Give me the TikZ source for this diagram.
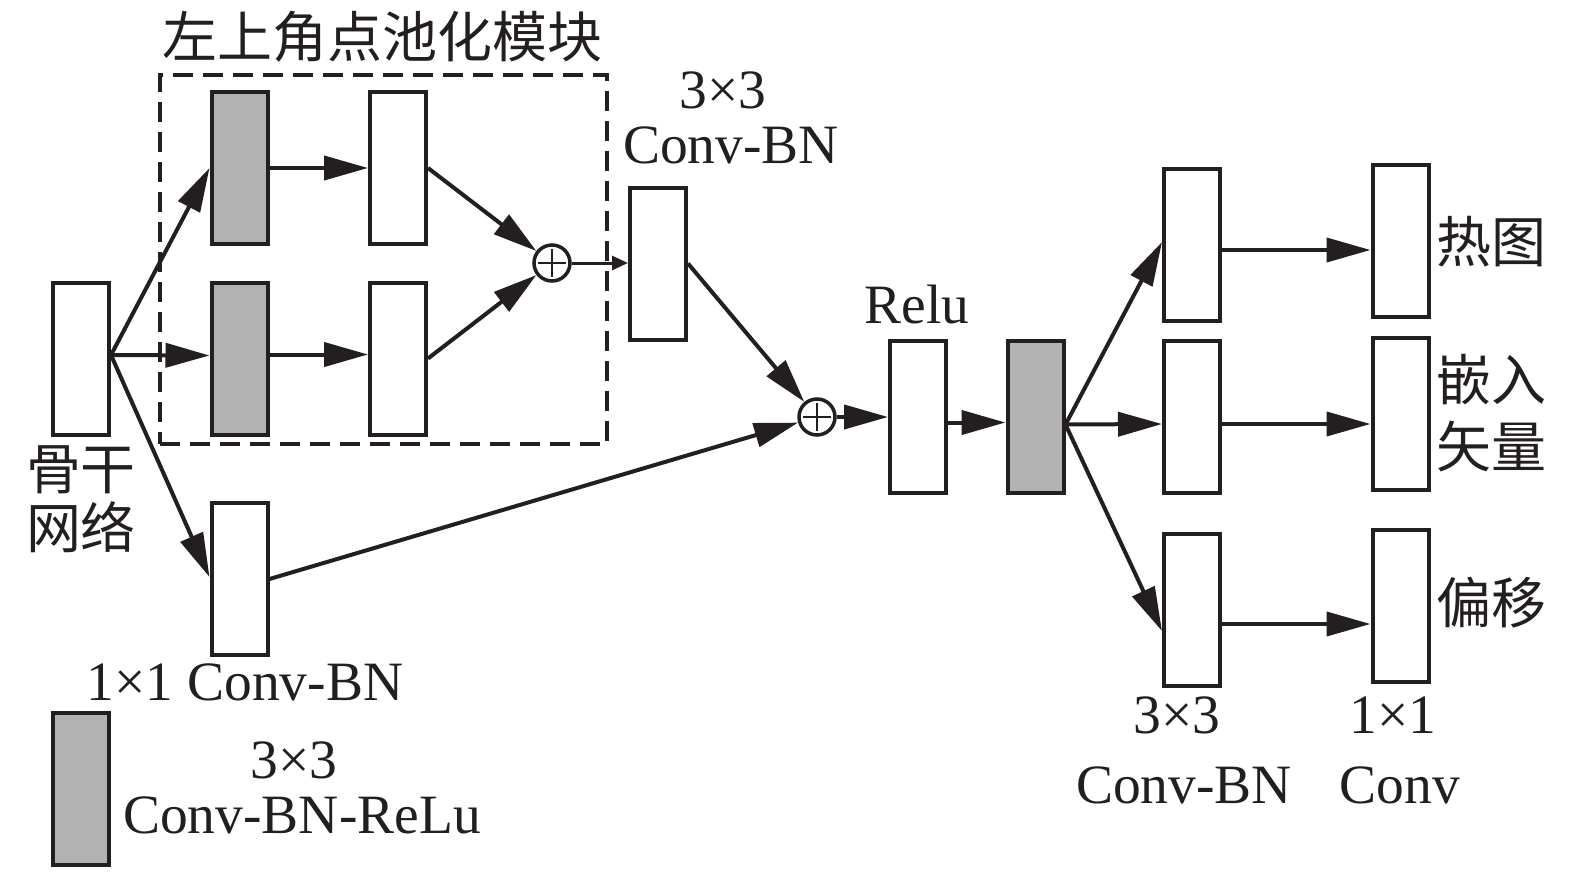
\documentclass[tikz,border=0pt]{standalone}
\usepackage{fontspec}
\setmainfont{Liberation Serif}
\newfontfamily\cjk{Noto Sans CJK SC}
\usetikzlibrary{arrows.meta,calc}
\definecolor{boxgray}{RGB}{178,178,178}
\definecolor{ink}{RGB}{35,31,32}
\begin{document}
\begin{tikzpicture}[x=1pt,y=-1pt,
  blk/.style={draw=ink, line width=4pt, minimum width=56pt, minimum height=152pt, inner sep=0pt, fill=white},
  gblk/.style={blk, fill=boxgray},
  sumnode/.style={circle, draw=ink, line width=3.5pt, minimum size=36pt, inner sep=0pt, fill=white,
    path picture={\draw[draw=ink, line width=2pt] ([xshift=-14pt]path picture bounding box.center) -- ([xshift=14pt]path picture bounding box.center);
      \draw[draw=ink, line width=2pt] ([yshift=-14pt]path picture bounding box.center) -- ([yshift=14pt]path picture bounding box.center);}},
  arr/.style={draw=ink, line width=4pt, -{Triangle[length=44pt,width=24pt]}},
  thinarr/.style={draw=ink, line width=3pt, -{Triangle[length=16pt,width=14pt]}},
  lat/.style={font=\fontsize{55.5}{62}\selectfont, inner sep=0pt, text=ink},
  zh/.style={font=\cjk\fontsize{55}{62}\selectfont, inner sep=0pt, text=ink},
]
\useasboundingbox (0,0) rectangle (1575,871);
\fill[white] (0,0) rectangle (1575,871);

% dashed module box
\node[draw=ink, line width=3.5pt, dash pattern=on 20pt off 10pt, minimum width=447pt, minimum height=369pt, inner sep=0pt] (mod) at (383.5,259.5) {};
\node[zh] (title) at (382,37) {左上角点池化模块};

% blocks
\node[blk]  (bb)  at (81,359) {};
\node[gblk] (g1)  at (239.5,168) {};
\node[gblk] (g2)  at (239.5,358.5) {};
\node[blk]  (w1)  at (398,168) {};
\node[blk]  (w2)  at (398,358.5) {};
\node[sumnode] (p1) at (552,263) {};
\node[blk]  (cb)  at (658,263.5) {};
\node[blk]  (c11) at (239.5,579) {};
\node[sumnode] (p2) at (817,417) {};
\node[blk]  (relu) at (918,416.5) {};
\node[gblk] (g3)  at (1035.5,416.5) {};
\node[blk]  (r1)  at (1192,244.5) {};
\node[blk]  (r2)  at (1192,416.5) {};
\node[blk]  (r3)  at (1192,609.5) {};
\node[blk]  (o1)  at (1400.5,240.5) {};
\node[blk]  (o2)  at (1400.5,414) {};
\node[blk]  (o3)  at (1400.5,606) {};
\node[gblk] (lg)  at (81,789) {};

% labels
\node[lat] (t33a) at (723,90) {3×3};
\node[lat] (tcba) at (731,145) {Conv-BN};
\node[lat] (trelu) at (917,305) {Relu};
\node[zh] (tbb1) at (81,470) {骨干};
\node[zh] (tbb2) at (81,527) {网络};
\node[lat] (t11) at (245,682) {1×1 Conv-BN};
\node[lat] (t33b) at (294,760) {3×3};
\node[lat] (tcbr) at (302,815) {Conv-BN-ReLu};
\node[zh] (thm) at (1491,242) {热图};
\node[zh] (tem1) at (1491,380) {嵌入};
\node[zh] (tem2) at (1491,447) {矢量};
\node[zh] (toff) at (1491,603) {偏移};
\node[lat] (t33c) at (1177,715) {3×3};
\node[lat] (tcbc) at (1184,785) {Conv-BN};
\node[lat] (t11d) at (1393,715) {1×1};
\node[lat] (tcv) at (1400,785) {Conv};

% connector end points
\coordinate (bbo) at ($(bb.east)+(0,-4)$);
\coordinate (g2i) at ($(g2.west)+(0,-3)$);
\coordinate (c11i) at ($(c11.west)+(0,-2)$);
\coordinate (g2o) at ($(g2.east)+(0,-4)$);
\coordinate (w2i) at ($(w2.west)+(0,-4)$);
\coordinate (reluo) at ($(relu.east)+(0,6)$);
\coordinate (g3i) at ($(g3.west)+(0,6)$);
\coordinate (g3o) at ($(g3.east)+(0,8)$);
\coordinate (r1i) at ($(r1.west)+(0,-2.5)$);
\coordinate (r2i) at ($(r2.west)+(0,7.5)$);
\coordinate (r3i) at ($(r3.west)+(0,21.5)$);
\coordinate (r1o) at ($(r1.east)+(0,5.5)$);
\coordinate (r2o) at ($(r2.east)+(0,7.5)$);
\coordinate (r3o) at ($(r3.east)+(0,14.5)$);

% connectors
\draw[arr] (bbo) -- (g1.west);
\draw[arr] (bbo) -- (g2i);
\draw[arr] (bbo) -- (c11i);
\draw[arr] (g1.east) -- (w1.west);
\draw[arr] (g2o) -- (w2i);
\draw[arr] (w1.east) -- (p1);
\draw[arr] (w2.east) -- (p1);
\draw[thinarr] (p1) -- (p1 -| cb.west);
\draw[arr] (cb.east) -- (p2);
\draw[arr] (c11.east) -- (p2);
\draw[arr] (p2) -- (p2 -| relu.west);
\draw[arr] (reluo) -- (g3i);
\draw[arr] (g3o) -- (r1i);
\draw[arr] (g3o) -- (r2i);
\draw[arr] (g3o) -- (r3i);
\draw[arr] (r1o) -- (r1o -| o1.west);
\draw[arr] (r2o) -- (r2o -| o2.west);
\draw[arr] (r3o) -- (r3o -| o3.west);
\end{tikzpicture}
\end{document}
